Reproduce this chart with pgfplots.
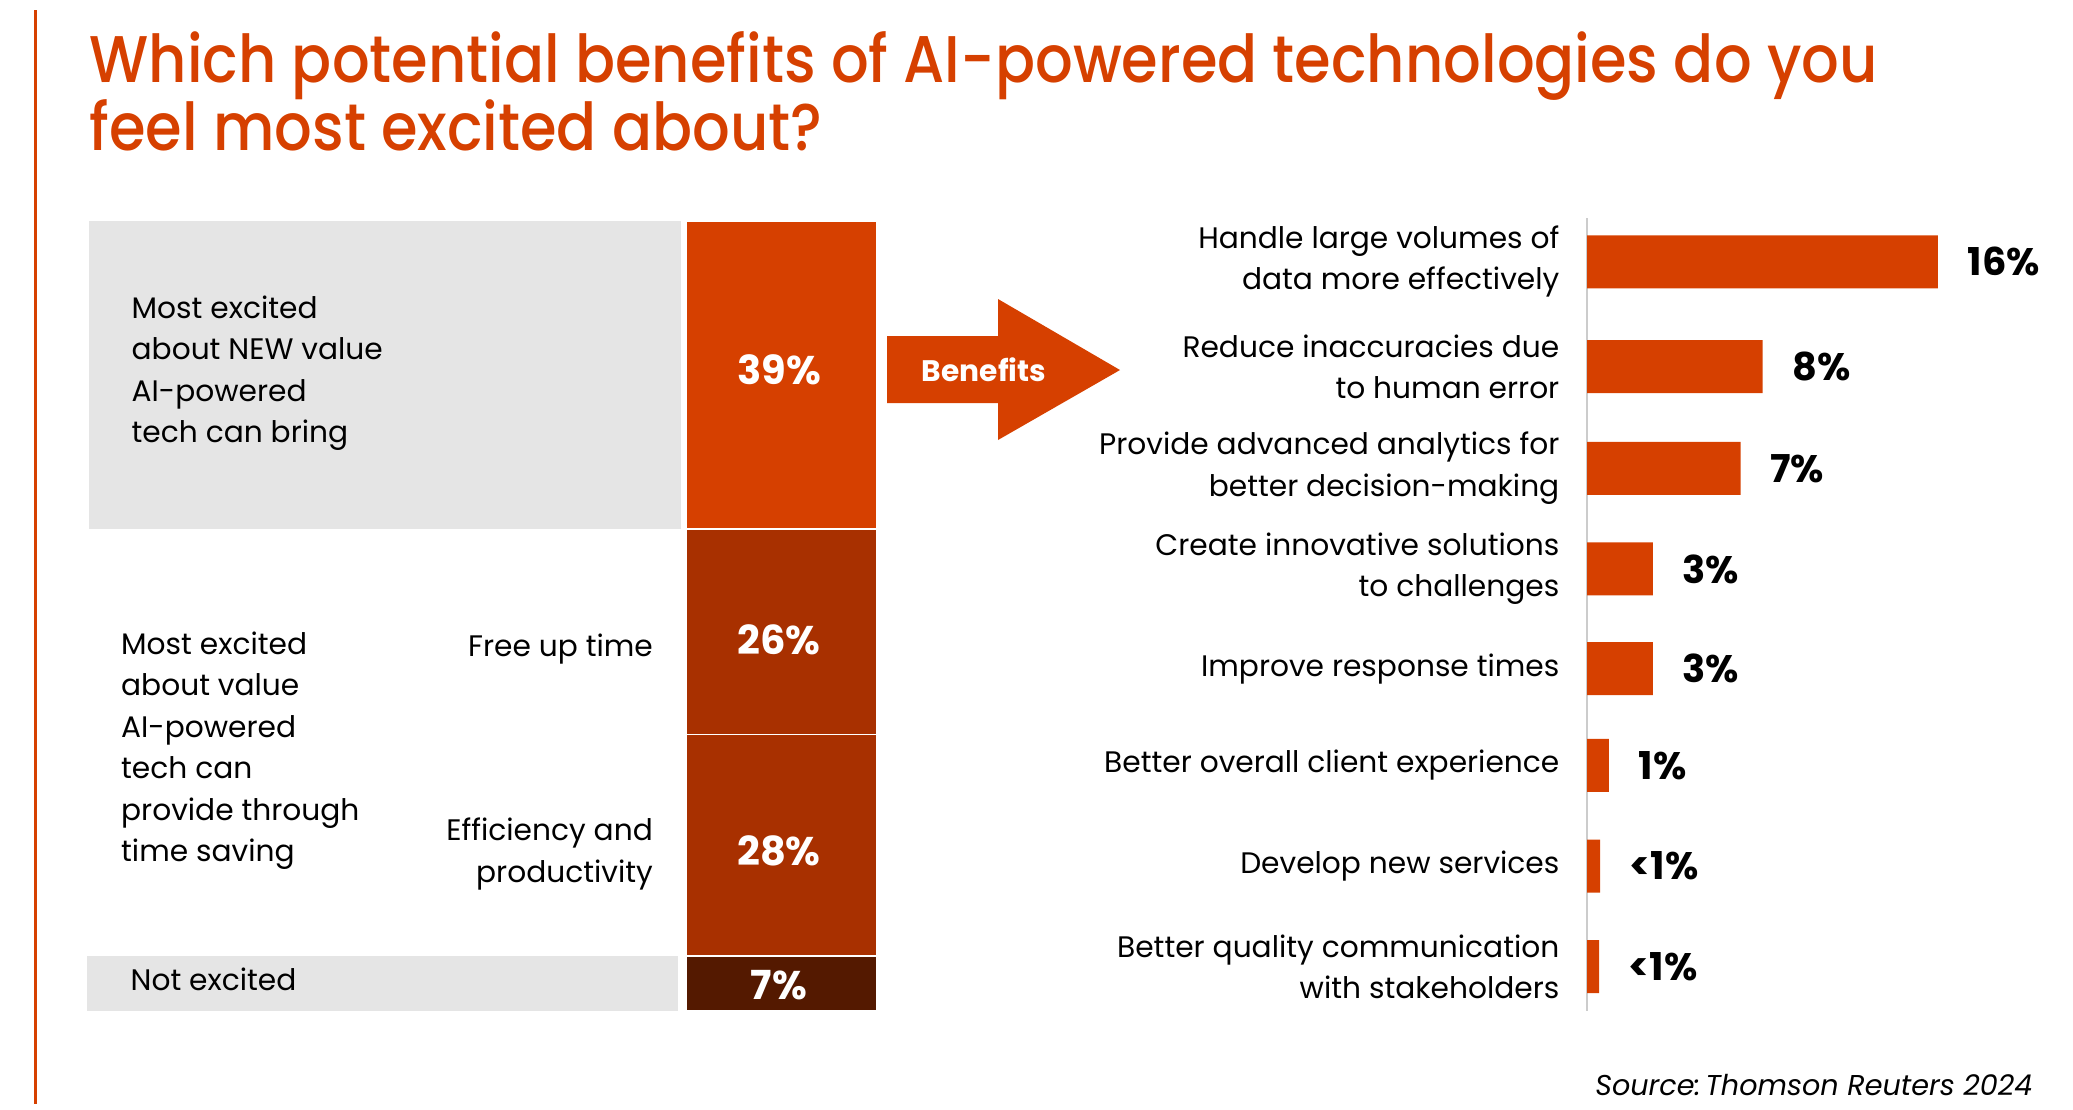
\documentclass[border=0pt]{standalone}
\usepackage{graphicx}
\usepackage{pgfplots}
\pgfplotsset{compat=1.18}
\usepackage{fontspec}
\setmainfont{Poppins}
\newfontfamily\titlefont{Poppins Medium}
\definecolor{trorange}{HTML}{D64000}
\definecolor{trdark}{HTML}{A83000}
\definecolor{trbrown}{HTML}{541900}
\definecolor{trgray}{HTML}{E5E5E5}
\newcommand{\bodyfont}{\fontsize{8.9pt}{12.4pt}\selectfont}
\newcommand{\numfont}{\fontsize{12pt}{14pt}\selectfont\bfseries}
\newsavebox\tlA
\newsavebox\tlB
\begin{document}
\sbox\tlA{\color{trorange}\titlefont\fontsize{19.8pt}{22pt}\selectfont Which potential benefits of AI-powered technologies do you}%
\sbox\tlB{\color{trorange}\titlefont\fontsize{19.8pt}{22pt}\selectfont feel most excited about?}%
\pgfmathsetmacro\tsx{536.4/\the\wd\tlA}%
\begin{tikzpicture}
\useasboundingbox (0,0) rectangle (621.9pt,-332.7pt);
\begin{scope}[x=0.3pt,y=-0.3pt]
  \draw[trorange, line width=0.9pt] (35,10) -- (35,1104);
  \node[anchor=base west, inner sep=0pt, text=trorange] at (89,82) {\scalebox{\tsx}[1]{\usebox\tlA}};
  \node[anchor=base west, inner sep=0pt, text=trorange] at (89,150) {\scalebox{\tsx}[1]{\usebox\tlB}};
\end{scope}

% gray background boxes
\begin{axis}[at={(26.1pt,-66.3pt)}, anchor=north west, scale only axis,
  width=237pt, height=237pt, xmin=87, xmax=877, ymin=0, ymax=100, hide axis, clip=false]
  \addplot[fill=trgray, draw=none] coordinates {(89,61) (681,61) (681,100) (89,100)} -- cycle;
  \addplot[fill=trgray, draw=none] coordinates {(87,0) (678,0) (678,7) (87,7)} -- cycle;
\end{axis}

% stacked bar
\begin{axis}[at={(26.1pt,-66.3pt)}, anchor=north west, scale only axis,
  width=237pt, height=237pt, xmin=87, xmax=877, ymin=0, ymax=100, hide axis, clip=false,
  ybar stacked, bar width=57.3pt]
  \addplot[fill=trbrown, draw=white, line width=0.5pt] coordinates {(781.5,7)};
  \addplot[fill=trdark, draw=white, line width=0.5pt] coordinates {(781.5,28)};
  \addplot[fill=trdark, draw=white, line width=0.5pt] coordinates {(781.5,26)};
  \addplot[fill=trorange, draw=white, line width=0.5pt] coordinates {(781.5,39)};
\end{axis}

% right bar chart
\begin{axis}[at={(476.1pt,-65.4pt)}, anchor=north west, scale only axis,
  width=105.3pt, height=237.9pt, xmin=0, xmax=16, ymin=-0.435, ymax=7.44,
  y dir=reverse, xbar, bar width=15.9pt, clip=false,
  axis x line=none, axis y line*=left,
  y axis line style={draw=black!20, line width=0.4pt, -},
  ytick={0,1.04,2.05,3.05,4.04,5,6,7}, major tick length=0pt,
  yticklabels={{Handle large volumes of\\data more effectively},
    {Reduce inaccuracies due\\to human error},
    {Provide advanced analytics for\\better decision-making},
    {Create innovative solutions\\to challenges},
    {Improve response times},
    {Better overall client experience},
    {Develop new services},
    {Better quality communication\\with stakeholders}},
  yticklabel style={align=right, font=\bodyfont, inner sep=0pt, xshift=-8.1pt},
  nodes near coords, point meta=explicit symbolic,
  nodes near coords style={anchor=west, inner sep=0pt, xshift=8.7pt, font=\fontsize{11.5pt}{13pt}\selectfont\bfseries, text=black}]
  \addplot[fill=trorange, draw=none] coordinates {
    (16,0) [16\%]
    (8,1.04) [8\%]
    (7,2.05) [7\%]
    (3,3.05) [3\%]
    (3,4.04) [3\%]
    (1,5) [1\%]
    (0.6,6) [<1\%]
    (0.55,7) [<1\%]};
\end{axis}

\begin{scope}[x=0.3pt,y=-0.3pt]
  \foreach \yy/\tt in {318/Most excited, 359.5/about NEW value, 401/AI-powered, 442.5/tech can bring}
    \node[anchor=base west, inner sep=0pt, font=\bodyfont] at (131,\yy) {\tt};
  \foreach \yy/\tt in {654/Most excited, 695.5/about value, 737/AI-powered, 778.5/tech can, 820/provide through, 861.5/time saving}
    \node[anchor=base west, inner sep=0pt, font=\bodyfont] at (120.5,\yy) {\tt};
  \node[anchor=base east, inner sep=0pt, font=\bodyfont] at (653.5,656.5) {Free up time};
  \node[anchor=base east, inner sep=0pt, font=\bodyfont] at (653.5,840.5) {Efficiency and};
  \node[anchor=base east, inner sep=0pt, font=\bodyfont] at (653.5,882) {productivity};
  \node[anchor=base west, inner sep=0pt, font=\bodyfont] at (130,990) {Not excited};
  \node[inner sep=0pt, text=white, font=\numfont] at (779,370) {39\%};
  \node[inner sep=0pt, text=white, font=\numfont] at (779,640) {26\%};
  \node[inner sep=0pt, text=white, font=\numfont] at (779,851) {28\%};
  \node[inner sep=0pt, text=white, font=\numfont] at (779,985) {7\%};
  % arrow
  \fill[trorange] (887,336) -- (998,336) -- (998,299) -- (1120,370) -- (998,440) -- (998,403) -- (887,403) -- cycle;
  \node[anchor=base, inner sep=0pt, text=white, font=\fontsize{8.9pt}{10pt}\selectfont\bfseries] at (984,381) {Benefits};
  \node[anchor=base east, inner sep=0pt, font=\fontsize{8.6pt}{10pt}\selectfont\itshape] at (2033,1095) {Source:\,Thomson Reuters 2024};
\end{scope}
\end{tikzpicture}
\end{document}
